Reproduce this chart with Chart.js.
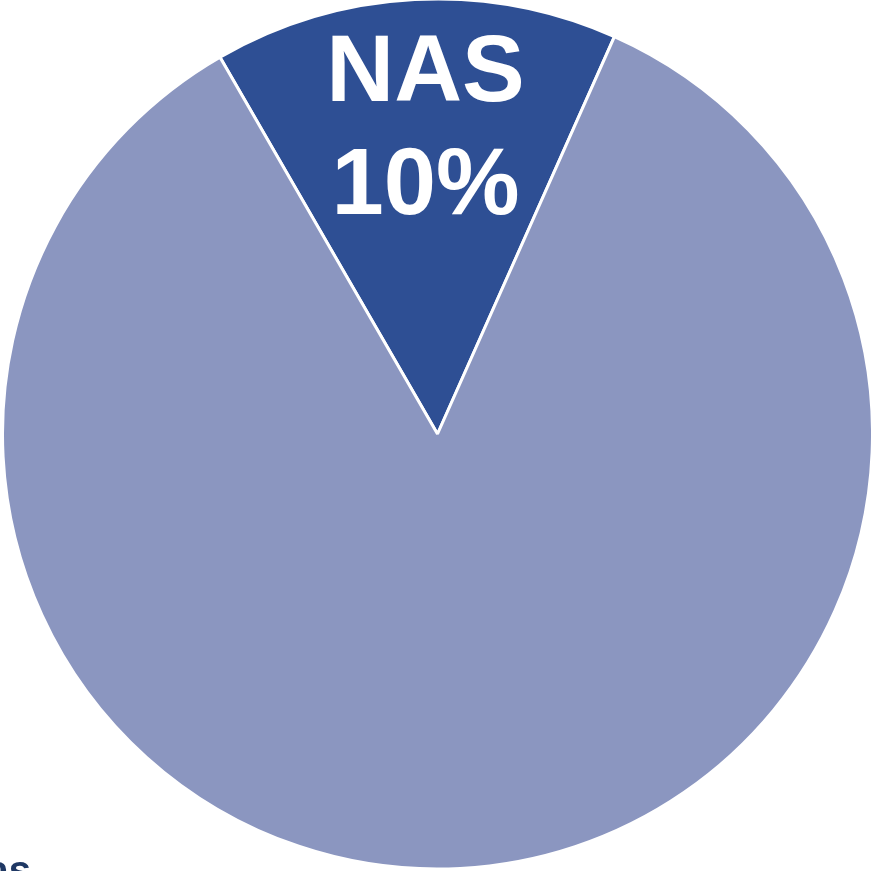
<!DOCTYPE html>
<html>
<head>
<meta charset="utf-8">
<script src="https://cdn.jsdelivr.net/npm/chart.js@4"></script>
<style>
  html, body { margin: 0; padding: 0; background: #ffffff; }
  #wrap { width: 871px; height: 871px; }
</style>
</head>
<body>
<div id="wrap"><canvas id="pie"></canvas></div>
<script>
// slice data
const categories = ['NAS', 'Other'];
const shares = [15, 85];
const labelTop = ['NAS', ''];
const labelBottom = ['10%', ''];
const sliceColors = ['#2e4f94', '#8b96c0'];

// white text drawn inside slices
const sliceLabels = {
  id: 'sliceLabels',
  afterDatasetsDraw(chart) {
    const ctx = chart.ctx;
    const meta = chart.getDatasetMeta(0);
    ctx.save();
    meta.data.forEach((arc, i) => {
      if (!labelTop[i]) return;
      const p = arc.getProps(['x', 'y', 'startAngle', 'endAngle', 'outerRadius'], true);
      const mid = (p.startAngle + p.endAngle) / 2;
      const r = p.outerRadius * 0.7;
      const cx = p.x + Math.cos(mid) * r;
      const cy = p.y + Math.sin(mid) * r;
      ctx.fillStyle = '#ffffff';
      ctx.textAlign = 'center';
      ctx.textBaseline = 'middle';
      ctx.font = 'bold 94px "Liberation Sans", Arial, sans-serif';
      ctx.fillText(labelTop[i], cx + 4, cy - 55);
      ctx.fillText(labelBottom[i], cx + 4, cy + 58);
    });
    // cut-off label at lower left
    ctx.fillStyle = '#1f3864';
    ctx.textAlign = 'right';
    ctx.textBaseline = 'alphabetic';
    ctx.font = 'bold 40px "Liberation Sans", Arial, sans-serif';
    ctx.fillText('as', 31, 884);
    ctx.restore();
  }
};

new Chart(document.getElementById('pie').getContext('2d'), {
  type: 'pie',
  data: {
    labels: categories,
    datasets: [{
      data: shares,
      backgroundColor: sliceColors,
      borderColor: '#ffffff',
      borderWidth: 3,
      radius: 435
    }]
  },
  options: {
    responsive: true,
    maintainAspectRatio: false,
    animation: false,
    rotation: -30,
    layout: { padding: { left: 4, right: 0, top: 0, bottom: 3 } },
    plugins: {
      legend: { display: false },
      tooltip: { enabled: false }
    }
  },
  plugins: [sliceLabels]
});
</script>
</body>
</html>
